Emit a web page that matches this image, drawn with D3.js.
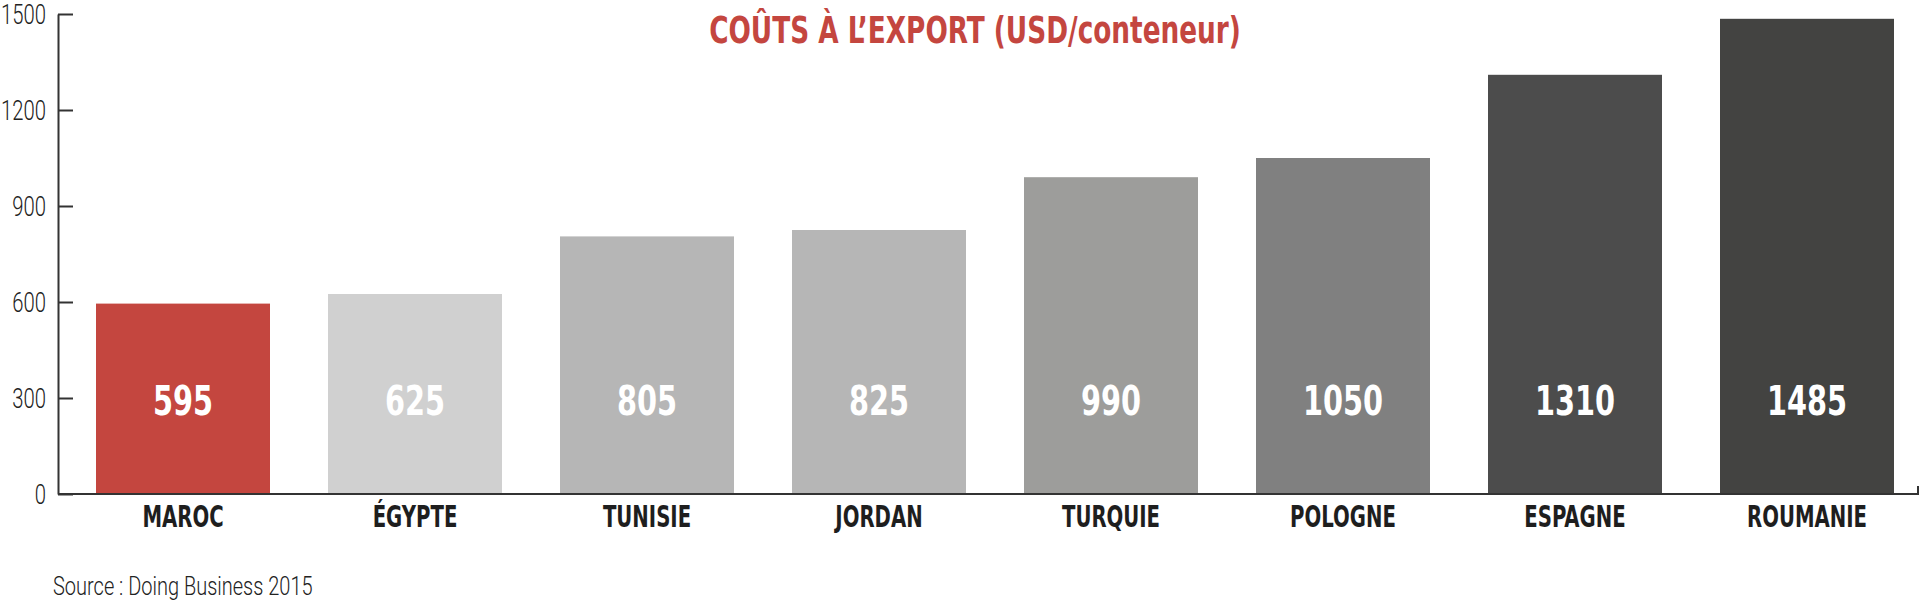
<!DOCTYPE html>
<html>
<head>
<meta charset="utf-8">
<script src="https://cdn.jsdelivr.net/npm/d3@7"></script>
<style>
	body { margin: 0; background: #fff; }
	.cond { font-family: 'DejaVu Sans Condensed', 'DejaVu Sans', sans-serif; font-weight: bold; }
	.light { font-family: 'Roboto', 'Liberation Sans', sans-serif; font-weight: 300; }
</style>
</head>
<body>
<div id="chart"></div>
<script>
// Data
const countries = ['MAROC', 'ÉGYPTE', 'TUNISIE', 'JORDAN', 'TURQUIE', 'POLOGNE', 'ESPAGNE', 'ROUMANIE'];
const costs = [595, 625, 805, 825, 990, 1050, 1310, 1485];
const barColors = ['#c4463f', '#d0d0d0', '#b6b6b6', '#b6b6b6', '#9d9d9b', '#808080', '#4c4c4c', '#434341'];
const yTicks = [0, 300, 600, 900, 1200, 1500];

const width = 1920;
const height = 602;

// squeeze text horizontally to fake a condensed face
function squeeze(sel, s) {
	sel.each(function () {
		const t = d3.select(this);
		const tx = +t.attr('x') || 0;
		const ty = +t.attr('y') || 0;
		t.attr('x', 0).attr('y', 0).attr('transform', `translate(${tx},${ty}) scale(${s},1)`);
	});
}

const svg = d3
	.select('#chart')
	.append('svg')
	.attr('width', width)
	.attr('height', height);

// Scales
const x = d3
	.scaleBand()
	.domain(countries)
	.range([67, 1923])
	.paddingInner(0.25)
	.paddingOuter(0.125);

const y = d3.scaleLinear().domain([0, 1500]).range([494, 14]);

// Bars
svg.append('g')
	.selectAll('rect')
	.data(countries)
	.enter()
	.append('rect')
	.attr('x', (d) => x(d))
	.attr('y', (d, i) => y(costs[i]))
	.attr('width', x.bandwidth())
	.attr('height', (d, i) => y(0) - y(costs[i]))
	.attr('fill', (d, i) => barColors[i]);

// Value labels inside bars
svg.append('g')
	.selectAll('text')
	.data(countries)
	.enter()
	.append('text')
	.attr('class', 'cond')
	.attr('x', (d) => x(d) + x.bandwidth() / 2)
	.attr('y', 415)
	.attr('text-anchor', 'middle')
	.attr('fill', '#fff')
	.style('font-size', '41px')
	.text((d, i) => costs[i])
	.call(squeeze, 0.78);

// Y axis
const yAxis = svg
	.append('g')
	.attr('transform', 'translate(58,0)')
	.call(
		d3.axisLeft(y)
			.tickValues(yTicks)
			.tickFormat(d3.format('d'))
			.tickSize(-15)
			.tickSizeOuter(0)
			.tickPadding(12)
	);

yAxis.select('.domain').attr('stroke', '#333').attr('stroke-width', 2);
yAxis.selectAll('.tick line').attr('stroke', '#333').attr('stroke-width', 2);
yAxis.selectAll('.tick text')
	.attr('class', 'light')
	.attr('fill', '#222')
	.attr('x', -16)
	.attr('dy', '0.36em')
	.attr('transform', 'scale(0.75,1)')
	.style('font-size', '27px');

// X axis baseline with end tick
svg.append('path')
	.attr('d', `M58,${y(0)}H1918V${y(0) - 8}`)
	.attr('fill', 'none')
	.attr('stroke', '#333')
	.attr('stroke-width', 2);

// Category labels
svg.append('g')
	.selectAll('text')
	.data(countries)
	.enter()
	.append('text')
	.attr('class', 'cond')
	.attr('x', (d) => x(d) + x.bandwidth() / 2)
	.attr('y', 527)
	.attr('text-anchor', 'middle')
	.attr('fill', '#1e1e1e')
	.style('font-size', '30px')
	.text((d) => d)
	.call(squeeze, 0.73);

// Title
svg.append('text')
	.attr('class', 'cond')
	.attr('x', 975)
	.attr('y', 43)
	.attr('text-anchor', 'middle')
	.attr('fill', '#c4463f')
	.style('font-size', '38px')
	.text('COÛTS À L’EXPORT (USD/conteneur)')
	.call(squeeze, 0.77);

// Source
svg.append('text')
	.attr('class', 'light')
	.attr('x', 53)
	.attr('y', 595)
	.attr('fill', '#222')
	.style('font-size', '25px')
	.text('Source : Doing Business 2015')
	.call(squeeze, 0.8);
</script>
</body>
</html>
